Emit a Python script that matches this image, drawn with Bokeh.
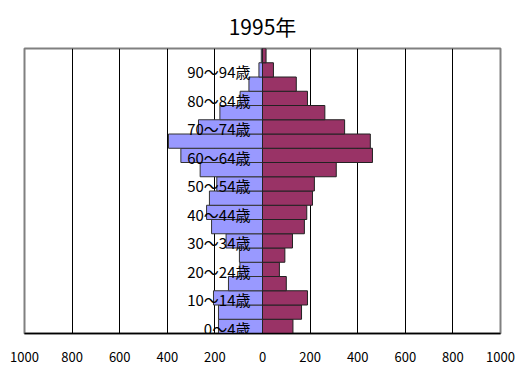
from bokeh.plotting import figure
from bokeh.models import ColumnDataSource, FixedTicker, Range1d
from bokeh.core.properties import value
from bokeh.embed import file_html
from bokeh.resources import INLINE

title_text = "1995年"
age_groups = ["0～4歳", "5～9歳", "10～14歳", "15～19歳", "20～24歳", "25～29歳",
              "30～34歳", "35～39歳", "40～44歳", "45～49歳", "50～54歳", "55～59歳",
              "60～64歳", "65～69歳", "70～74歳", "75～79歳", "80～84歳", "85～89歳",
              "90～94歳", "95～99歳"]
male = [185, 185, 206, 143, 95, 97, 153, 214, 235, 223, 192, 262,
        343, 395, 269, 179, 94, 57, 15, 5]
female = [128, 164, 189, 100, 71, 94, 126, 176, 186, 210, 218, 310,
          462, 453, 345, 262, 189, 142, 46, 15]
tick_values = [-1000, -800, -600, -400, -200, 0, 200, 400, 600, 800, 1000]
label_every = 2

FONT = "Noto Sans CJK JP"

n = len(age_groups)
idx = list(range(n))
src = ColumnDataSource(dict(
    y=[i + 0.5 for i in idx],
    male_left=[-v for v in male],
    female_right=female,
))

p = figure(width=519, height=371, output_backend="svg", toolbar_location=None,
           x_range=Range1d(-1000, 1000), y_range=Range1d(0, n),
           min_border_left=24, min_border_right=19, min_border_top=48,
           min_border_bottom=38)

p.title.text = title_text
p.title.align = "center"
p.title.text_font = FONT
p.title.text_font_size = "21px"
p.title.text_font_style = "normal"
p.title.text_color = "#000000"
p.title.standoff = 15

p.background_fill_color = "white"
p.border_fill_color = "white"
p.outline_line_color = "#808080"
p.outline_line_width = 2

p.xgrid.ticker = FixedTicker(ticks=tick_values)
p.xgrid.grid_line_color = "#000000"
p.xgrid.grid_line_width = 1
p.ygrid.grid_line_color = None

p.hbar(y="y", left="male_left", right=0, height=1.0, source=src,
       fill_color="#9999FF", line_color="#333333", line_width=1)
p.hbar(y="y", left=0, right="female_right", height=1.0, source=src,
       fill_color="#993366", line_color="#222222", line_width=1)

lab_idx = [i for i in idx if i % label_every == 0]
lab_src = ColumnDataSource(dict(
    x=[0] * len(lab_idx),
    y=[i + 0.5 for i in lab_idx],
    t=[age_groups[i] for i in lab_idx],
))
p.text(x="x", y="y", text="t", source=lab_src, text_align="right",
       text_baseline="middle", x_offset=-12, y_offset=2,
       text_font=value(FONT), text_font_size="15px", text_color="#000000")

p.xaxis.ticker = FixedTicker(ticks=tick_values)
p.xaxis.major_label_overrides = {v: str(abs(v)) for v in tick_values}
p.xaxis.major_label_text_font = FONT
p.xaxis.major_label_text_font_size = "13px"
p.xaxis.major_label_text_color = "#000000"
p.xaxis.major_label_standoff = 18
p.xaxis.major_tick_in = 0
p.xaxis.major_tick_out = 0
p.xaxis.minor_tick_line_color = None
p.xaxis.axis_line_color = "#000000"
p.xaxis.axis_line_width = 1.5

p.yaxis.visible = False

open("out.html", "w").write(file_html(p, INLINE))
